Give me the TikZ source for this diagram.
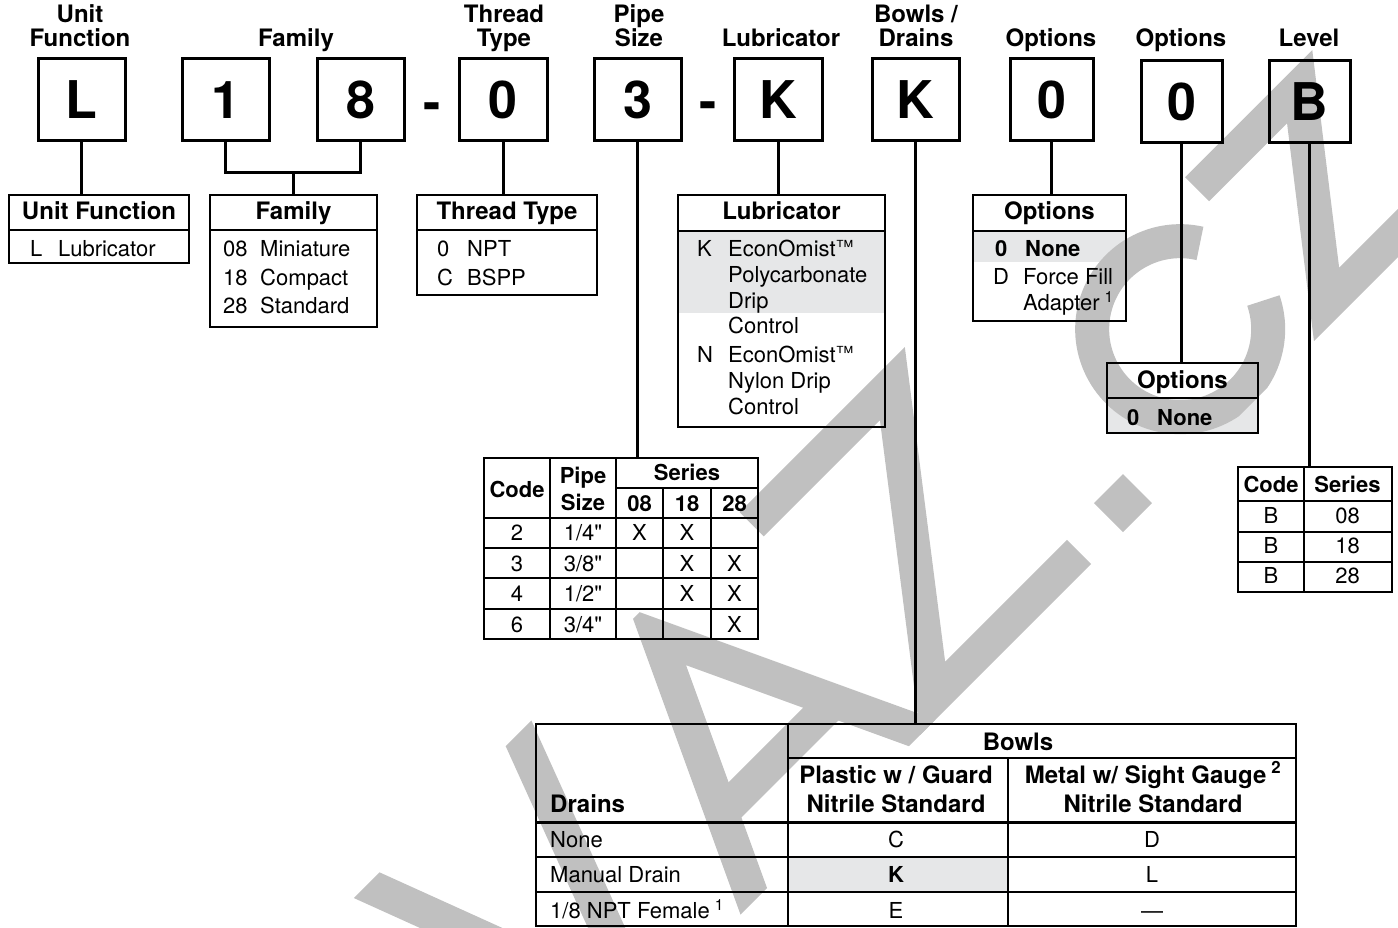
\documentclass[tikz,border=0pt]{standalone}
\usepackage{fontspec}
\setmainfont{TeX Gyre Heros}
\newfontfamily\plainheros{TeX Gyre Heros}
\definecolor{wm}{RGB}{192,192,192}
\definecolor{hl}{RGB}{230,231,232}
\newcommand{\tmk}{\raisebox{3pt}{\fontsize{18}{18}\selectfont ™}}
\newcommand{\inch}{{\plainheros"}}
\tikzset{
 lbox/.style={draw, line width=3pt, minimum width=87pt, minimum height=82pt, inner sep=0pt, font=\fontsize{52}{52}\selectfont\bfseries},
 conn/.style={line width=3pt},
 tframe/.style={draw, line width=2.5pt, inner sep=0pt},
 tline/.style={line width=2pt},
 tlinew/.style={line width=2.6pt},
 lab/.style={inner sep=0pt, anchor=base, font=\fontsize{24}{24}\selectfont\bfseries},
 hds/.style={inner sep=0pt, anchor=base, font=\fontsize{22}{22}\selectfont\bfseries},
 tx/.style={inner sep=0pt, anchor=base west, font=\fontsize{22}{22}\selectfont},
 txc/.style={inner sep=0pt, anchor=base, font=\fontsize{22}{22}\selectfont},
 txb/.style={inner sep=0pt, anchor=base west, font=\fontsize{22}{22}\selectfont\bfseries},
 wmk/.style={draw=wm, line width=34pt, line join=miter},
}
\begin{document}
\begin{tikzpicture}[x=1pt,y=-1pt]
\useasboundingbox (0,0) rectangle (1398,928);
% highlighted cells
\fill[hl] (678,231) rectangle (885,313);
\fill[hl] (973,231) rectangle (1126,262);
\fill[hl] (1107,398) rectangle (1258,433);
\fill[hl] (788,857) rectangle (1008,892);
% watermark
\begin{scope}[shift={(0,1655)}, x={(0.70711pt,0.70711pt)}, y={(-0.70711pt,0.70711pt)}]
\clip (700,0) -- (2300,0) -- (2300,285) -- (700,285) -- cycle;
\draw[wmk] (786.7,330) -- (911,0) -- (1035.3,330);
\draw[wmk] (1047.3,-40) -- (1185,255) -- (1322.7,-40);
\draw[wmk] (1105,85) -- (1265,85);
\draw[wmk] (1331,268) -- (1530,268) -- (1336,17) -- (1543,17);
\fill[wm] (1588,0) -- (1629,0) -- (1629,41) -- (1588,41) -- cycle;
\draw[draw=wm, line width=34pt] (1772,103) ++(32:88) arc[start angle=32, end angle=334, radius=88];
\draw[wmk] (1883,190) -- (2028,190) -- (1893,17) -- (2060,17);
\end{scope}
% top labels
\node[lab] (hUF1) at (80,23) {Unit};
\node[lab] (hUF2) at (80,47) {Function};
\node[lab] (hFam) at (296,47) {Family};
\node[lab] (hTT1) at (504,23) {Thread};
\node[lab] (hTT2) at (504,47) {Type};
\node[lab] (hPS1) at (639,23) {Pipe};
\node[lab] (hPS2) at (639,47) {Size};
\node[lab] (hLub) at (781,47) {Lubricator};
\node[lab] (hBD1) at (916,23) {Bowls /};
\node[lab] (hBD2) at (916,47) {Drains};
\node[lab] (hO1) at (1051,47) {Options};
\node[lab] (hO2) at (1181,47) {Options};
\node[lab] (hLv) at (1309,47) {Level};
% letter boxes
\node[lbox] (bL) at (81.5,100) {L};
\node[lbox] (b1) at (225.5,100) {1};
\node[lbox] (b8) at (360.5,100) {8};
\node[lbox, minimum width=88pt] (b0) at (503,100) {0};
\node[lbox] (b3) at (637.5,100) {3};
\node[lbox, minimum width=88pt] (bK) at (778,100) {K};
\node[lbox] (bK2) at (915.5,100) {K};
\node[lbox, minimum width=83pt] (bO1) at (1051.5,100) {0};
\node[lbox, minimum width=81pt] (bO2) at (1181.5,102) {0};
\node[lbox, minimum width=81pt] (bB) at (1309.5,102) {B};
\node[lab, font=\fontsize{52}{52}\selectfont\bfseries] (d1) at (432,121) {-};
\node[lab, font=\fontsize{52}{52}\selectfont\bfseries] (d2) at (708.5,120) {-};
% table frames
\node[tframe, minimum width=180pt, minimum height=68pt] (tUF) at (99,229) {};
\node[tframe, minimum width=167pt, minimum height=132pt] (tFam) at (293.5,261) {};
\node[tframe, minimum width=180pt, minimum height=100pt] (tTT) at (507,245) {};
\node[tframe, minimum width=207pt, minimum height=232pt] (tLub) at (781.5,311) {};
\node[tframe, minimum width=153pt, minimum height=126pt] (tO1) at (1049.5,258) {};
\node[tframe, minimum width=151pt, minimum height=70pt] (tO2) at (1182.5,398) {};
\node[tframe, minimum width=154pt, minimum height=125pt] (tLv) at (1315,529.5) {};
\node[tframe, minimum width=274pt, minimum height=181pt] (tPS) at (621,548.5) {};
\node[tframe, minimum width=760pt, minimum height=202pt] (tBD) at (916,825) {};
% connectors
\draw[conn] (bL.south) -- (bL.south |- tUF.north);
\coordinate (fj) at (293.5,173);
\draw[conn] (b1.south) |- (fj) -| (b8.south);
\draw[conn] (fj) -- (fj |- tFam.north);
\draw[conn] (b0.south) -- (b0.south |- tTT.north);
\draw[conn] (b3.south) -- (b3.south |- tPS.north);
\draw[conn] (bK.south) -- (bK.south |- tLub.north);
\draw[conn] (bK2.south) -- (bK2.south |- tBD.north);
\draw[conn] (bO1.south) -- (bO1.south |- tO1.north);
\draw[conn] (bO2.south) -- (bO2.south |- tO2.north);
\draw[conn] (bB.south) -- (bB.south |- tLv.north);
% table rules
\draw[tlinew] (9,230) -- (189,230);
\draw[tlinew] (210,230) -- (377,230);
\draw[tlinew] (417,230) -- (597,230);
\draw[tlinew] (678,231) -- (885,231);
\draw[tlinew] (973,231) -- (1126,231);
\draw[tlinew] (1107,398) -- (1258,398);
\draw[tlinew] (1238,501) -- (1392,501);
\draw[tline] (1238,531.5) -- (1392,531.5);
\draw[tline] (1238,561.5) -- (1392,561.5);
\draw[tline] (1304,467) -- (1304,592);
\draw[tline] (616,488) -- (758,488);
\draw[tlinew] (484,518) -- (758,518);
\draw[tline] (484,548) -- (758,548);
\draw[tline] (484,578) -- (758,578);
\draw[tline] (484,609) -- (758,609);
\draw[tline] (550,458) -- (550,639);
\draw[tline] (616,458) -- (616,639);
\draw[tline] (663,488) -- (663,639);
\draw[tline] (711,488) -- (711,639);
\draw[tline] (788,758) -- (1296,758);
\draw[line width=3pt] (536,822) -- (1296,822);
\draw[tline] (536,857) -- (1296,857);
\draw[tline] (536,892) -- (1296,892);
\draw[tline] (788,724) -- (788,926);
\draw[tline] (1008,758) -- (1008,926);
% Unit Function table
\node[lab] (uf0) at (99,220) {Unit Function};
\node[tx] (uf1c) at (30,257) {L};
\node[tx] (uf1t) at (58,257) {Lubricator};
% Family table
\node[lab] (fa0) at (293.5,220) {Family};
\node[tx] (fa1c) at (223,257) {08};
\node[tx] (fa1t) at (260,257) {Miniature};
\node[tx] (fa2c) at (223,285) {18};
\node[tx] (fa2t) at (260,285) {Compact};
\node[tx] (fa3c) at (223,313) {28};
\node[tx] (fa3t) at (260,313) {Standard};
% Thread table
\node[lab] (tt0) at (507,220) {Thread Type};
\node[tx] (tt1c) at (437,257) {0};
\node[tx] (tt1t) at (467,257) {NPT};
\node[tx] (tt2c) at (437,285) {C};
\node[tx] (tt2t) at (467,285) {BSPP};
% Lubricator table
\node[lab] (lu0) at (781.5,220) {Lubricator};
\node[tx] (lu1c) at (697,257) {K};
\node[tx] (lu1a) at (728,257) {EconOmist\tmk};
\node[tx] (lu1b) at (728,282.5) {Polycarbonate};
\node[tx] (lu1d) at (728,308) {Drip};
\node[tx] (lu1e) at (728,333.5) {Control};
\node[tx] (lu2c) at (697,362) {N};
\node[tx] (lu2a) at (728,362) {EconOmist\tmk};
\node[tx] (lu2b) at (728,388) {Nylon Drip};
\node[tx] (lu2d) at (728,414) {Control};
% Options 1
\node[lab] (oa0) at (1049.5,220) {Options};
\node[txb] (oa1c) at (995,257) {0};
\node[txb] (oa1t) at (1025,257) {None};
\node[tx] (oa2c) at (993,284) {D};
\node[tx] (oa2t) at (1023,284) {Force Fill};
\node[tx] (oa2u) at (1023,310) {Adapter\hspace{5pt}\textsuperscript{1}};
% Options 2
\node[lab] (ob0) at (1182.5,388) {Options};
\node[txb] (ob1c) at (1127,425) {0};
\node[txb] (ob1t) at (1157,425) {None};
% Level table
\node[hds] (lv0a) at (1271,492) {Code};
\node[hds] (lv0b) at (1347.5,492) {Series};
\node[txc] (lv1a) at (1271,523) {B};
\node[txc] (lv1b) at (1347.5,523) {08};
\node[txc] (lv2a) at (1271,553) {B};
\node[txc] (lv2b) at (1347.5,553) {18};
\node[txc] (lv3a) at (1271,583) {B};
\node[txc] (lv3b) at (1347.5,583) {28};
% Pipe size table
\node[hds] (ps0a) at (517,497) {Code};
\node[hds] (ps0b) at (583,483) {Pipe};
\node[hds] (ps0c) at (583,510) {Size};
\node[hds] (ps0d) at (687,480) {Series};
\node[hds] (ps0e) at (639.5,511) {08};
\node[hds] (ps0f) at (687,511) {18};
\node[hds] (ps0g) at (734.5,511) {28};
\node[txc] (ps1a) at (517,540) {2};
\node[txc] (ps1b) at (583,540) {1/4\inch};
\node[txc] (ps1c) at (639.5,540) {X};
\node[txc] (ps1d) at (687,540) {X};
\node[txc] (ps2a) at (517,571) {3};
\node[txc] (ps2b) at (583,571) {3/8\inch};
\node[txc] (ps2d) at (687,571) {X};
\node[txc] (ps2e) at (734.5,571) {X};
\node[txc] (ps3a) at (517,601) {4};
\node[txc] (ps3b) at (583,601) {1/2\inch};
\node[txc] (ps3d) at (687,601) {X};
\node[txc] (ps3e) at (734.5,601) {X};
\node[txc] (ps4a) at (517,632) {6};
\node[txc] (ps4b) at (583,632) {3/4\inch};
\node[txc] (ps4e) at (734.5,632) {X};
% Bowls / drains table
\node[lab] (bd0) at (1018,750) {Bowls};
\node[lab] (bd1a) at (896,783) {Plastic w / Guard};
\node[lab] (bd1b) at (896,812) {Nitrile Standard};
\node[lab] (bd2a) at (1153,783) {Metal w/ Sight Gauge\hspace{5pt}\textsuperscript{2}};
\node[lab] (bd2b) at (1153,812) {Nitrile Standard};
\node[lab, anchor=base west] (bd3) at (550,812) {Drains};
\node[tx] (bdr1) at (550,847) {None};
\node[tx] (bdr2) at (550,882) {Manual Drain};
\node[tx] (bdr3) at (550,918) {1/8 NPT Female\hspace{5pt}\textsuperscript{1}};
\node[txc] (bdc1) at (896,847) {C};
\node[txc, font=\fontsize{22}{22}\selectfont\bfseries] (bdc2) at (896,882) {K};
\node[txc] (bdc3) at (896,918) {E};
\node[txc] (bdm1) at (1152,847) {D};
\node[txc] (bdm2) at (1152,882) {L};
\node[txc] (bdm3) at (1152,918) {—};
\end{tikzpicture}
\end{document}
